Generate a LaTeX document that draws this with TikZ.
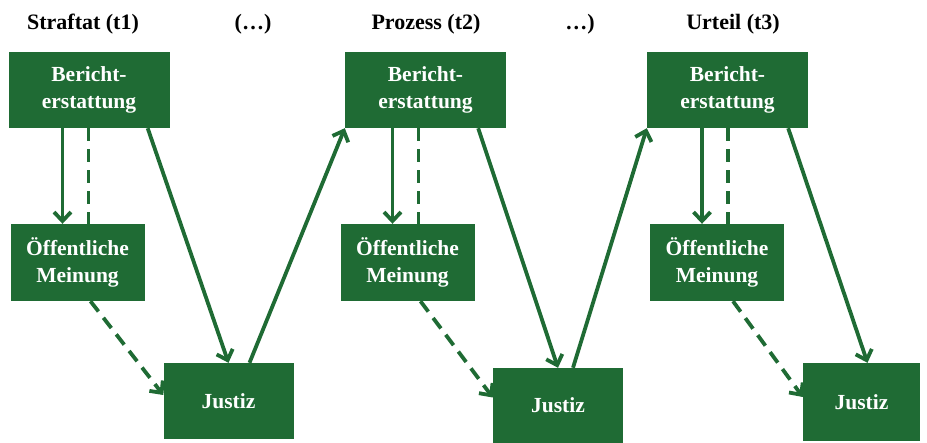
\documentclass[tikz,border=0pt]{standalone}
\usepackage{fontspec}
\setmainfont{Liberation Serif}
\usepackage{tikz}
\usetikzlibrary{arrows.meta,positioning}
\definecolor{jgreen}{RGB}{31,107,52}

\begin{document}
\begin{tikzpicture}[
    x=1pt, y=-1pt,
    box/.style={rectangle, fill=jgreen, text=white, align=center, inner sep=0pt,
        font=\fontsize{21.5}{27}\selectfont\bfseries},
    bericht/.style={box, minimum width=161pt, minimum height=76pt},
    meinung/.style={box, minimum width=134pt, minimum height=77pt},
    justiz/.style={box, minimum width=130pt, minimum height=76pt},
    phase/.style={anchor=base, font=\fontsize{22}{27}\selectfont\bfseries},
    arrow/.style={jgreen, line width=3.8pt, -{Straight Barb[length=9pt,width=17pt]}},
    link/.style={jgreen, line width=3.8pt, dash pattern=on 13pt off 8pt}
]
\useasboundingbox (0,0) rectangle (927,443);

% Phases
\node[phase] (t1) at (83,30) {Straftat (t1)};
\node[phase] (gap1) at (253,30) {(…)};
\node[phase] (t2) at (426,30) {Prozess (t2)};
\node[phase] (gap2) at (580,30) {…)};
\node[phase] (t3) at (733,30) {Urteil (t3)};

% Boxes at t1
\node[bericht] (ber1) at (89,90) {Bericht-\\erstattung};
\node[meinung] (mei1) at (77.5,262.5) {Öffentliche\\Meinung};
\node[justiz] (jus1) at (228.5,401) {Justiz};

% Boxes at t2
\node[bericht] (ber2) at (425.5,90) {Bericht-\\erstattung};
\node[meinung] (mei2) at (407.5,262.5) {Öffentliche\\Meinung};
\node[justiz, minimum height=75pt] (jus2) at (558,405.5) {Justiz};

% Boxes at t3
\node[bericht] (ber3) at (727.5,90) {Bericht-\\erstattung};
\node[meinung] (mei3) at (717,262.5) {Öffentliche\\Meinung};
\node[justiz, minimum width=117pt, minimum height=78pt] (jus3) at (861.5,402) {Justiz};

% Berichterstattung -> Meinung (solid) and back link (dashed)
\draw[arrow] ([xshift=-15pt]mei1.north |- ber1.south) -- ([xshift=-15pt]mei1.north);
\draw[link] ([xshift=11pt]mei1.north |- ber1.south) -- ([xshift=11pt]mei1.north);
\draw[arrow] ([xshift=-15pt]mei2.north |- ber2.south) -- ([xshift=-15pt]mei2.north);
\draw[link] ([xshift=11pt]mei2.north |- ber2.south) -- ([xshift=11pt]mei2.north);
\draw[arrow] ([xshift=-15pt]mei3.north |- ber3.south) -- ([xshift=-15pt]mei3.north);
\draw[link] ([xshift=11pt]mei3.north |- ber3.south) -- ([xshift=11pt]mei3.north);

% Berichterstattung -> Justiz
\draw[arrow] ([xshift=-22pt]ber1.south east) -- (jus1.north);
\draw[arrow] ([xshift=-28pt]ber2.south east) -- (jus2.north);
\draw[arrow] ([xshift=-20pt]ber3.south east) -- ([xshift=6pt]jus3.north);

% Meinung -> Justiz (dashed)
\draw[arrow, dash pattern=on 13pt off 8pt] ([xshift=13pt]mei1.south) -- ([yshift=6pt]jus1.west);
\draw[arrow, dash pattern=on 13pt off 8pt] ([xshift=13pt]mei2.south) -- ([yshift=8pt]jus2.west);
\draw[arrow, dash pattern=on 13pt off 8pt] ([xshift=16pt]mei3.south) -- ([yshift=5pt]jus3.west);

% Justiz -> next Berichterstattung
\draw[arrow] ([xshift=21pt]jus1.north) -- (ber2.south west);
\draw[arrow] ([xshift=15pt]jus2.north) -- (ber3.south west);

\end{tikzpicture}
\end{document}
